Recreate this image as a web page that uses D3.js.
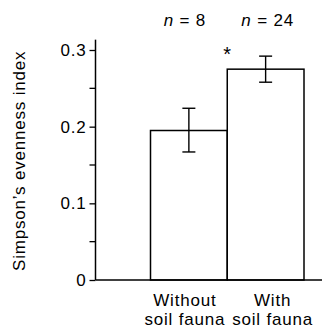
<!DOCTYPE html>
<html>
<head>
<meta charset="utf-8">
<script src="https://cdn.jsdelivr.net/npm/d3@7"></script>
<style>
  body { margin: 0; background: #fff; }
  svg { display: block; font-family: "Liberation Sans", Arial, sans-serif; }
  text { letter-spacing: 0.8px; }
</style>
</head>
<body>
<div id="chart"></div>
<script>
const categories = ["Without soil fauna", "With soil fauna"];
const labelLines = [["Without", "soil fauna"], ["With", "soil fauna"]];
const means = [0.195, 0.275];
const errLow = [0.167, 0.258];
const errHigh = [0.224, 0.292];
const nLabels = ["8", "24"];
const majorTicks = [0, 0.1, 0.2, 0.3];
const minorTicks = [0.05, 0.15, 0.25];

const width = 324, height = 329;
const fs = 17;
const svg = d3.select('#chart').append('svg')
  .attr('width', width).attr('height', height);

const y = d3.scaleLinear().domain([0, 0.3]).range([280, 50]);
const x = d3.scaleBand().domain(categories).range([150.5, 304]).padding(0);
const axisX = 95.5;
const mid = i => x(categories[i]) + x.bandwidth() / 2;
// text under / above the bars sits a little off-centre in the original
const labelShift = [-4, 7];
const nShift = [-4, 2];

// y axis
const yAxis = svg.append('g')
  .attr('transform', `translate(${axisX},0)`)
  .call(d3.axisLeft(y).tickValues(majorTicks)
    .tickFormat(d => d === 0 ? '0' : d3.format('.1f')(d))
    .tickSizeInner(6).tickSizeOuter(0).tickPadding(3));
yAxis.select('.domain').remove();
yAxis.selectAll('text').attr('font-size', fs).attr('fill', '#000')
  .attr('font-family', '"Liberation Sans", Arial, sans-serif');
yAxis.selectAll('line').attr('stroke', '#000').attr('stroke-width', 1.3);

svg.append('g')
  .attr('transform', `translate(${axisX},0)`)
  .selectAll('line').data(minorTicks).enter().append('line')
  .attr('x1', -6).attr('x2', 0)
  .attr('y1', d => y(d)).attr('y2', d => y(d))
  .attr('stroke', '#000').attr('stroke-width', 1.3);

svg.append('line')
  .attr('x1', axisX).attr('x2', axisX)
  .attr('y1', y(0)).attr('y2', y(0.3135))
  .attr('stroke', '#000').attr('stroke-width', 1.5);

// bars
svg.selectAll('rect.bar').data(means).enter().append('rect')
  .attr('class', 'bar')
  .attr('x', (d, i) => x(categories[i]))
  .attr('y', d => y(d))
  .attr('width', x.bandwidth())
  .attr('height', d => y(0) - y(d))
  .attr('fill', '#fff')
  .attr('stroke', '#000')
  .attr('stroke-width', 1.5);

// baseline
svg.append('line')
  .attr('x1', axisX).attr('x2', 322)
  .attr('y1', y(0)).attr('y2', y(0))
  .attr('stroke', '#000').attr('stroke-width', 1.6);

// error bars
const cap = 6.5;
const eb = svg.selectAll('g.err').data(means).enter().append('g')
  .attr('class', 'err')
  .attr('transform', (d, i) => `translate(${mid(i)},0)`);
eb.append('line').attr('x1', 0).attr('x2', 0)
  .attr('y1', (d, i) => y(errLow[i])).attr('y2', (d, i) => y(errHigh[i]));
eb.append('line').attr('x1', -cap).attr('x2', cap)
  .attr('y1', (d, i) => y(errLow[i])).attr('y2', (d, i) => y(errLow[i]));
eb.append('line').attr('x1', -cap).attr('x2', cap)
  .attr('y1', (d, i) => y(errHigh[i])).attr('y2', (d, i) => y(errHigh[i]));
eb.selectAll('line').attr('stroke', '#000').attr('stroke-width', 1.4);

// n labels
const nText = svg.selectAll('text.n').data(nLabels).enter().append('text')
  .attr('class', 'n')
  .attr('x', (d, i) => mid(i) + nShift[i])
  .attr('y', 26)
  .attr('text-anchor', 'middle')
  .attr('font-size', fs);
nText.append('tspan').attr('font-style', 'italic').text('n');
nText.append('tspan').text(d => ' = ' + d);

// significance asterisk
svg.append('text')
  .attr('x', x(categories[1]))
  .attr('y', 61)
  .attr('text-anchor', 'middle')
  .attr('font-size', 20)
  .style('letter-spacing', '0px')
  .text('*');

// x labels
labelLines.forEach((lines, i) => {
  const t = svg.append('text')
    .attr('text-anchor', 'middle')
    .attr('font-size', fs);
  lines.forEach((ln, j) => {
    t.append('tspan')
      .attr('x', mid(i) + labelShift[i])
      .attr('y', 306 + j * 19)
      .text(ln);
  });
});

// y label
svg.append('text')
  .attr('transform', `translate(25,${(y(0) + y(0.3135)) / 2 + 1}) rotate(-90)`)
  .attr('text-anchor', 'middle')
  .attr('font-size', fs)
  .text('Simpson\u2019s evenness index');
</script>
</body>
</html>
